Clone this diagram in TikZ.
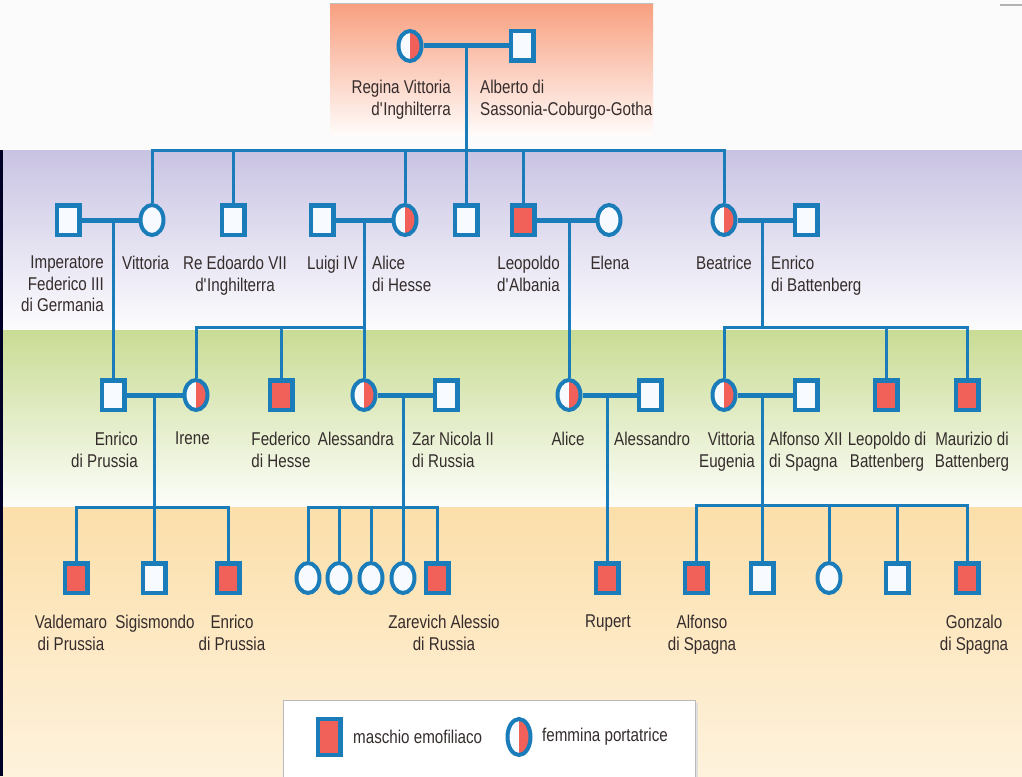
\documentclass[tikz,border=0pt]{standalone}
\usepackage{fontspec}
\setmainfont{Liberation Sans}[FakeStretch=0.82]
\usetikzlibrary{shapes.geometric}
\definecolor{lineblue}{HTML}{1A7DB9}
\definecolor{hemo}{HTML}{F2605A}
\definecolor{paper}{HTML}{F7FBFF}
\definecolor{txt}{HTML}{352C2C}
\definecolor{salmonbg}{HTML}{F8A080}
\definecolor{lilac}{HTML}{C9C3E3}
\definecolor{leaf}{HTML}{C9DC94}
\definecolor{sand}{HTML}{FCDFAA}
\newcommand{\ap}{\textquotesingle}
\begin{document}
\begin{tikzpicture}[x=1pt, y=-1pt,
    male/.style={rectangle, draw=lineblue, line width=4.5pt, fill=paper, minimum width=22.5pt, minimum height=29.5pt, inner sep=0pt},
    female/.style={ellipse, draw=lineblue, line width=4pt, fill=paper, minimum width=23pt, minimum height=30pt, inner sep=0pt},
    affected/.style={fill=hemo},
    carrier/.style={path picture={\fill[hemo] (path picture bounding box.north) rectangle (path picture bounding box.south east);}},
    marriage/.style={draw=lineblue, line width=5pt},
    descent/.style={draw=lineblue, line width=3pt},
    lbl/.style={inner sep=0pt, text=txt, font=\fontsize{18.5}{21.5}\selectfont}]
    \useasboundingbox (0,0) rectangle (1022,776);

    % sfondo a fasce
    \fill[white!97!gray] (0,0) rectangle (1022,776);
    \shade[top color=salmonbg, bottom color=white!96!salmonbg] (330,4) rectangle (653,135);
    \draw[gray!50, line width=1pt] (330,4) -- (653,4);
    \draw[gray!60, line width=2pt] (1000,5) -- (1022,5);
    \shade[top color=lilac, bottom color=white!95!lilac] (0,150) rectangle (1022,330);
    \shade[top color=leaf, bottom color=white!95!leaf] (0,330) rectangle (1022,507);
    \shade[top color=sand, bottom color=sand!40!white] (0,507) rectangle (1022,776);
    \fill[black!85!blue] (0,150) rectangle (3,776);

    % generazione I
    \node[female, carrier] (regina) at (410,46) {};
    \node[male] (alberto) at (522,46) {};
    \coordinate (m0) at (466,46);
    \coordinate (s0) at (466,150);

    % generazione II
    \node[male] (federico3) at (68,220) {};
    \node[female] (vittoria) at (152,220) {};
    \node[male] (edoardo) at (233,220) {};
    \node[male] (luigi) at (322,220) {};
    \node[female, carrier] (alice) at (405,220) {};
    \node[male] (principe) at (466,220) {};
    \node[male, affected] (leopoldo) at (523,220) {};
    \node[female] (elena) at (609,220) {};
    \node[female, carrier] (beatrice) at (724,220) {};
    \node[male] (enricoB) at (806,220) {};
    \coordinate (m1a) at (113,220);
    \coordinate (m1b) at (364,220);
    \coordinate (s1b) at (364,327);
    \coordinate (m1c) at (569,220);
    \coordinate (m1d) at (762,220);
    \coordinate (s1d) at (762,327);

    % generazione III
    \node[male] (enricoP) at (113,395) {};
    \node[female, carrier] (irene) at (196,395) {};
    \node[male, affected] (federicoH) at (281,395) {};
    \node[female, carrier] (alessandra) at (364,395) {};
    \node[male] (nicola) at (446,395) {};
    \node[female, carrier] (aliceA) at (569,395) {};
    \node[male] (alessandro) at (650,395) {};
    \node[female, carrier] (vittoriaE) at (724,395) {};
    \node[male] (alfonso12) at (806,395) {};
    \node[male, affected] (leopoldoB) at (886,395) {};
    \node[male, affected] (maurizio) at (967,395) {};
    \coordinate (m2a) at (154,395);
    \coordinate (s2a) at (154,507);
    \coordinate (m2b) at (403,395);
    \coordinate (s2b) at (403,507);
    \coordinate (m2c) at (607,395);
    \coordinate (m2d) at (762,395);
    \coordinate (s2d) at (762,505);

    % generazione IV
    \node[male, affected] (valdemaro) at (76,578) {};
    \node[male] (sigismondo) at (154,578) {};
    \node[male, affected] (enrico2) at (228,578) {};
    \node[female] (d1) at (308,578) {};
    \node[female] (d2) at (339,578) {};
    \node[female] (d3) at (371,578) {};
    \node[female] (d4) at (403,578) {};
    \node[male, affected] (alessio) at (437,578) {};
    \node[male, affected] (rupert) at (607,578) {};
    \node[male, affected] (alfonso) at (696,578) {};
    \node[male] (f2) at (762,578) {};
    \node[female] (f3) at (829,578) {};
    \node[male] (f4) at (897,578) {};
    \node[male, affected] (gonzalo) at (967,578) {};

    % matrimoni
    \draw[marriage] (regina) -- (alberto);
    \draw[marriage] (federico3) -- (vittoria);
    \draw[marriage] (luigi) -- (alice);
    \draw[marriage] (leopoldo) -- (elena);
    \draw[marriage] (beatrice) -- (enricoB);
    \draw[marriage] (enricoP) -- (irene);
    \draw[marriage] (alessandra) -- (nicola);
    \draw[marriage] (aliceA) -- (alessandro);
    \draw[marriage] (vittoriaE) -- (alfonso12);

    % discendenza
    \draw[descent] (m0) -- (s0);
    \foreach \c in {vittoria, edoardo, alice, principe, leopoldo, beatrice}
        \draw[descent] (s0) -| (\c);
    \draw[descent] (m1a) -- (enricoP);
    \draw[descent] (m1b) -- (s1b);
    \foreach \c in {irene, federicoH, alessandra}
        \draw[descent] (s1b) -| (\c);
    \draw[descent] (m1c) -- (aliceA);
    \draw[descent] (m1d) -- (s1d);
    \foreach \c in {vittoriaE, leopoldoB, maurizio}
        \draw[descent] (s1d) -| (\c);
    \draw[descent] (m2a) -- (s2a);
    \foreach \c in {valdemaro, sigismondo, enrico2}
        \draw[descent] (s2a) -| (\c);
    \draw[descent] (m2b) -- (s2b);
    \foreach \c in {d1, d2, d3, d4, alessio}
        \draw[descent] (s2b) -| (\c);
    \draw[descent] (m2c) -- (rupert);
    \draw[descent] (m2d) -- (s2d);
    \foreach \c in {alfonso, f2, f3, f4, gonzalo}
        \draw[descent] (s2d) -| (\c);

    % nomi
    \node[lbl, anchor=north east, align=right] (regina-l) at (451,80) {Regina Vittoria\\d\ap Inghilterra};
    \node[lbl, anchor=north west, align=left] (alberto-l) at (480,80) {Alberto di\\Sassonia-Coburgo-Gotha};

    \node[lbl, anchor=north east, align=right] (federico3-l) at (104,256) {Imperatore\\Federico III\\di Germania};
    \node[lbl, anchor=north west, align=left] (vittoria-l) at (122,256) {Vittoria};
    \node[lbl, anchor=north, align=center] (edoardo-l) at (235,256) {Re Edoardo VII\\d\ap Inghilterra};
    \node[lbl, anchor=north east, align=right] (luigi-l) at (358,256) {Luigi IV};
    \node[lbl, anchor=north west, align=left] (alice-l) at (372,256) {Alice\\di Hesse};
    \node[lbl, anchor=north east, align=right] (leopoldo-l) at (560,256) {Leopoldo\\d\ap Albania};
    \node[lbl, anchor=north, align=center] (elena-l) at (610,256) {Elena};
    \node[lbl, anchor=north east, align=right] (beatrice-l) at (752,256) {Beatrice};
    \node[lbl, anchor=north west, align=left] (enricoB-l) at (771,256) {Enrico\\di Battenberg};

    \node[lbl, anchor=north east, align=right] (enricoP-l) at (138,432) {Enrico\\di Prussia};
    \node[lbl, anchor=north west, align=left] (irene-l) at (175,432) {Irene};
    \node[lbl, anchor=north, align=center] (federicoH-l) at (281,432) {Federico\\di Hesse};
    \node[lbl, anchor=north east, align=right] (alessandra-l) at (394,432) {Alessandra};
    \node[lbl, anchor=north west, align=left] (nicola-l) at (412,432) {Zar Nicola II\\di Russia};
    \node[lbl, anchor=north, align=center] (aliceA-l) at (568,432) {Alice};
    \node[lbl, anchor=north west, align=left] (alessandro-l) at (614,432) {Alessandro};
    \node[lbl, anchor=north east, align=right] (vittoriaE-l) at (755,432) {Vittoria\\Eugenia};
    \node[lbl, anchor=north west, align=left] (alfonso12-l) at (769,432) {Alfonso XII\\di Spagna};
    \node[lbl, anchor=north, align=center] (leopoldoB-l) at (887,432) {Leopoldo di\\Battenberg};
    \node[lbl, anchor=north, align=center] (maurizio-l) at (972,432) {Maurizio di\\Battenberg};

    \node[lbl, anchor=north, align=center] (valdemaro-l) at (71,615) {Valdemaro\\di Prussia};
    \node[lbl, anchor=north, align=center] (sigismondo-l) at (155,615) {Sigismondo};
    \node[lbl, anchor=north, align=center] (enrico2-l) at (232,615) {Enrico\\di Prussia};
    \node[lbl, anchor=north, align=center] (alessio-l) at (444,615) {Zarevich Alessio\\di Russia};
    \node[lbl, anchor=north, align=center] (rupert-l) at (608,615) {Rupert};
    \node[lbl, anchor=north, align=center] (alfonso-l) at (702,615) {Alfonso\\di Spagna};
    \node[lbl, anchor=north, align=center] (gonzalo-l) at (974,615) {Gonzalo\\di Spagna};

    % legenda
    \fill[gray!25] (286,703) rectangle (698,780);
    \filldraw[fill=white, draw=gray!55, line width=1pt] (283,700) rectangle (695,780);
    \node[male, affected, minimum height=36pt] (leg-m) at (329,737) {};
    \node[lbl, anchor=west] (leg-m-l) at (353,737) {maschio emofiliaco};
    \node[female, carrier, minimum height=36pt] (leg-f) at (519,737) {};
    \node[lbl, anchor=west] (leg-f-l) at (542,737) {femmina portatrice};
\end{tikzpicture}
\end{document}
